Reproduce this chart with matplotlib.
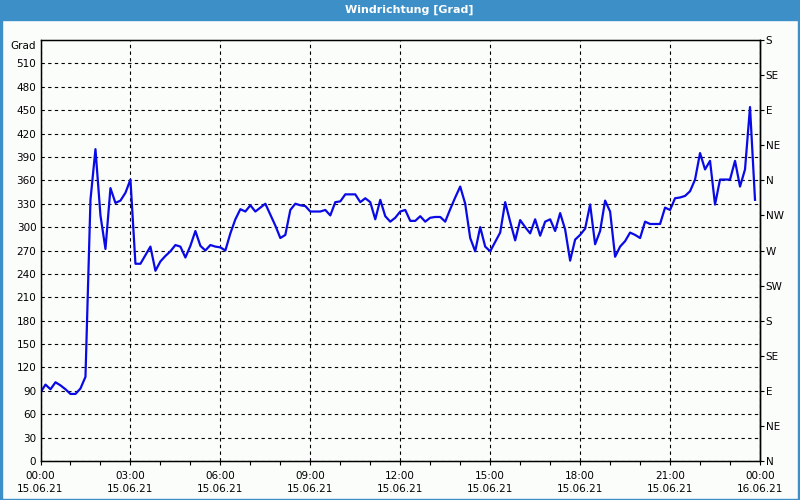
import matplotlib
matplotlib.use("Agg")
import matplotlib.pyplot as plt
import matplotlib.dates as mdates
import pandas as pd

# wind direction every 10 minutes, 15.06.21 00:00 .. 23:50
wind_dir = [
    88, 98, 92, 101, 97, 92, 86, 86, 93, 108,
    335, 400, 315, 272, 350, 331, 334, 344, 361, 253,
    253, 264, 275, 244, 256, 263, 269, 277, 275, 261,
    276, 295, 276, 270, 277, 275, 274, 270, 292, 310,
    323, 320, 328, 320, 325, 330, 316, 302, 286, 290,
    322, 330, 328, 327, 320, 320, 320, 322, 315, 332,
    333, 342, 342, 342, 332, 337, 332, 310, 335, 314,
    307, 312, 320, 322, 308, 308, 314, 307, 312, 313,
    313, 307, 323, 338, 352, 330, 286, 269, 300, 275,
    269, 281, 293, 332, 307, 283, 309, 300, 292, 310,
    289, 307, 310, 295, 318, 297, 257, 284, 290, 298,
    329, 278, 295, 334, 320, 262, 275, 282, 293, 290,
    286, 307, 304, 304, 304, 325, 322, 337, 338, 340,
    346, 361, 395, 374, 385, 329, 361, 361, 361, 385,
    352, 374, 454, 335,
]
times = pd.date_range("2021-06-15 00:00", periods=len(wind_dir), freq="10min")

y_ticks = list(range(0, 540, 30))
compass = ["N", "NE", "E", "SE", "S", "SW", "W", "NW",
           "N", "NE", "E", "SE", "S"]
compass_pos = list(range(0, 541, 45))

blue_bar = "#3c8fc7"
bg = "#fbfdfb"

fig = plt.figure(figsize=(8, 5), dpi=100, facecolor=bg)

# title bar and frame
fig.patches.append(plt.Rectangle((0, 0.96), 1, 0.04, transform=fig.transFigure,
                                 color=blue_bar, zorder=0))
for rect in [(0, 0, 0.002, 1), (0.998, 0, 0.002, 1), (0, 0, 1, 0.003)]:
    fig.patches.append(plt.Rectangle(rect[:2], rect[2], rect[3],
                                     transform=fig.transFigure, color=blue_bar))
fig.text(0.512, 0.98, "Windrichtung [Grad]", color="white", fontsize=8,
         fontweight="bold", ha="center", va="center")

ax = fig.add_axes([40.5 / 800, 39 / 500, 719.5 / 800, 421 / 500])
ax.set_facecolor(bg)
ax.plot(times, wind_dir, color="#0a0ae6", lw=1.6)

start = pd.Timestamp("2021-06-15 00:00")
end = pd.Timestamp("2021-06-16 00:00")
ax.set_xlim(start, end)
ax.set_ylim(0, 540)

ax.set_yticks(y_ticks)
ax.set_yticklabels([str(v) for v in y_ticks], fontsize=7.5)
ax.tick_params(axis="y", length=0, pad=3)
ax.text(-0.006, 1.0 - 6 / 421, "Grad", transform=ax.transAxes, fontsize=7.5,
        ha="right", va="center")

ax.xaxis.set_minor_locator(mdates.HourLocator())
xt = pd.date_range(start, end, freq="3h")
ax.set_xticks(xt)
ax.set_xticklabels([t.strftime("%H:%M\n%d.%m.%y") for t in xt], fontsize=7.5,
                   linespacing=1.35)
ax.tick_params(axis="x", which="both", length=3, width=0.8, pad=4)

ax.grid(True, which="major", color="black", linestyle=(0, (3, 3)), lw=0.8)

for s in ax.spines.values():
    s.set_linewidth(1.0)
    s.set_color("black")

ax2 = ax.twinx()
ax2.set_ylim(0, 540)
ax2.set_yticks(compass_pos)
ax2.set_yticklabels(compass, fontsize=7.5)
ax2.tick_params(axis="y", length=3, width=0.8, pad=1)
ax2.spines["right"].set_linewidth(1.0)

fig.savefig("out.png", dpi=100, facecolor=bg)
